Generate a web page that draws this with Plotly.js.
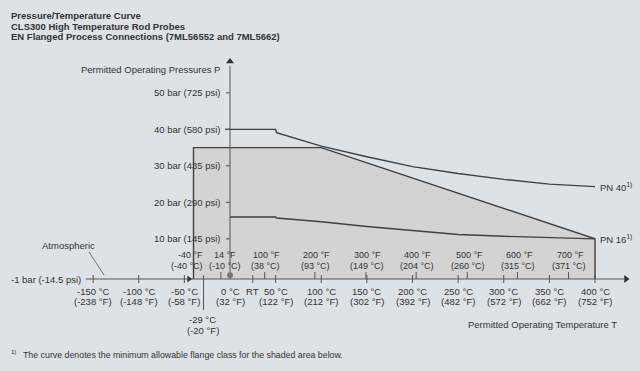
<!DOCTYPE html>
<html>
<head>
<meta charset="utf-8">
<script src="https://cdn.plot.ly/plotly-3.0.1.min.js"></script>
<style>html,body{margin:0;padding:0;background:#dde2e7;}#chart{width:640px;height:371px;}</style>
</head>
<body>
<div id="chart"></div>
<script>
// ---- data ----
const titleLines = ['Pressure/Temperature Curve', 'CLS300 High Temperature Rod Probes', 'EN Flanged Process Connections (7ML56552 and 7ML5662)'];

// shaded permitted area (°C, bar)
const areaT = [-40, -40, 100, 400, 400];
const areaP = [-1, 35, 35, 10, -1];

// PN 40 curve
const pn40T = [0, 50, 51, 100, 150, 200, 250, 300, 350, 400];
const pn40P = [40, 40, 39.1, 35.4, 32.5, 29.8, 27.9, 26.3, 25.0, 24.3];

// PN 16 curve
const pn16T = [0, 50, 51, 100, 150, 200, 250, 300, 350, 400];
const pn16P = [16, 16, 15.7, 14.7, 13.4, 12.2, 11.2, 10.7, 10.3, 10.0];

// pressure ticks
const pTicks = [10, 20, 30, 40, 50];
const pTickText = ['10 bar (145 psi)', '20 bar (290 psi)', '30 bar (435 psi)', '40 bar (580 psi)', '50 bar (725 psi)'];

// Celsius ticks (below axis)
const cTicks = [-150, -100, -50, 0, 50, 100, 150, 200, 250, 300, 350, 400];
const cTickF = ['(-238 °F)', '(-148 °F)', '(-58 °F)', '(32 °F)', '(122 °F)', '(212 °F)', '(302 °F)', '(392 °F)', '(482 °F)', '(572 °F)', '(662 °F)', '(752 °F)'];
const rtT = 25;

// Fahrenheit ticks (above axis)
const fTicksC = [-40, -10, 38, 93, 149, 204, 260, 315, 371];
const fTicksF = [-40, 14, 100, 200, 300, 400, 500, 600, 700];

const minTemp = -29;
const axisMin = -1;

// ---- drawing ----
const ink = '#404040';
const txt = '#333';
const fam = 'Liberation Sans, Arial, sans-serif';
const font = {family: fam, size: 9.5, color: txt};
const fontF = {family: fam, size: 9, color: txt};

const xEnd = 432, xStart = -158, yTop = 57.4;

const traces = [
  {x: areaT, y: areaP, mode: 'lines', fill: 'toself', fillcolor: '#d3d3d3',
   line: {color: ink, width: 1.4}, hoverinfo: 'skip'},
  {x: [xStart, xEnd], y: [axisMin, axisMin], mode: 'lines', line: {color: '#555', width: 1}, hoverinfo: 'skip'},
  {x: [0, 0], y: [axisMin, yTop], mode: 'lines', line: {color: '#555', width: 1}, hoverinfo: 'skip'},
  {x: pn40T, y: pn40P, mode: 'lines', line: {color: ink, width: 1.4}, hoverinfo: 'skip'},
  {x: pn16T, y: pn16P, mode: 'lines', line: {color: ink, width: 1.4}, hoverinfo: 'skip'},
  {x: [xEnd + 2], y: [axisMin], mode: 'markers', marker: {symbol: 'triangle-right', size: 7, color: '#333'}, hoverinfo: 'skip'},
  {x: [0], y: [yTop + 1.2], mode: 'markers', marker: {symbol: 'triangle-up', size: 7, color: '#333'}, hoverinfo: 'skip'},
  {x: [-45], y: [axisMin], mode: 'markers', marker: {symbol: 'triangle-right', size: 6, color: '#333'}, hoverinfo: 'skip'},
  {x: [0], y: [0], mode: 'markers', marker: {symbol: 'circle', size: 6, color: '#777'}, hoverinfo: 'skip'}
];

const shapes = [];
const ann = [];
const lineS = (x0, y0, x1, y1, w) => shapes.push({type: 'line', xref: 'x', yref: 'y', x0, y0, x1, y1, line: {color: '#555', width: w || 1}});

// pressure ticks + labels
pTicks.forEach((p, i) => {
  lineS(-4.4, p, 0, p);
  ann.push({xref: 'x', yref: 'y', x: -7.5, y: p, text: pTickText[i], showarrow: false, xanchor: 'right', yanchor: 'middle', font});
});
// stub of PN 40 line reaching the tick
lineS(-5.5, 40, 0, 40, 1.4);

// Celsius ticks + labels
cTicks.forEach((c, i) => {
  if (c !== 0) lineS(c, 0.1, c, -2.1);
  ann.push({xref: 'x', yref: 'y', x: c, y: -4.4, text: c + ' °C', showarrow: false, xanchor: 'center', yanchor: 'middle', font});
  ann.push({xref: 'x', yref: 'y', x: c, y: -7.2, text: cTickF[i], showarrow: false, xanchor: 'center', yanchor: 'middle', font});
});
lineS(rtT, 0.1, rtT, -2.1);
ann.push({xref: 'x', yref: 'y', x: rtT, y: -4.4, text: 'RT', showarrow: false, xanchor: 'center', yanchor: 'middle', font});

// Fahrenheit ticks + labels
fTicksC.forEach((c, i) => {
  if (c !== -40) lineS(c, -1, c, 0.9);
  let d1 = 2, d2 = 1;
  if (c === -40) { d1 = -3; d2 = -7; }
  if (c === -10) { d1 = 4.5; d2 = 4.5; }
  ann.push({xref: 'x', yref: 'y', x: c + d1, y: 5.5, text: fTicksF[i] + ' °F', showarrow: false, xanchor: 'center', yanchor: 'middle', font: fontF});
  ann.push({xref: 'x', yref: 'y', x: c + d2, y: 2.6, text: '(' + c + ' °C)', showarrow: false, xanchor: 'center', yanchor: 'middle', font: fontF});
});

// -29 °C minimum line
lineS(minTemp, 0, minTemp, -9.5);
ann.push({xref: 'x', yref: 'y', x: minTemp - 1, y: -12, text: minTemp + ' °C', showarrow: false, xanchor: 'center', yanchor: 'middle', font});
ann.push({xref: 'x', yref: 'y', x: minTemp - 1, y: -15.1, text: '(-20 °F)', showarrow: false, xanchor: 'center', yanchor: 'middle', font});

// atmospheric leader
lineS(-154.5, 6.4, -138, 0.1, 0.8);
ann.push({xref: 'x', yref: 'y', x: -177.5, y: 8.3, text: 'Atmospheric', showarrow: false, xanchor: 'center', yanchor: 'middle', font});
ann.push({xref: 'x', yref: 'y', x: xStart - 3.5, y: axisMin, text: '-1 bar (-14.5 psi)', showarrow: false, xanchor: 'right', yanchor: 'middle', font});

// axis titles
ann.push({xref: 'x', yref: 'y', x: -8.5, y: 56.4, text: 'Permitted Operating Pressures P', showarrow: false, xanchor: 'right', yanchor: 'middle', font});
ann.push({xref: 'x', yref: 'y', x: 426, y: -13.4, text: 'Permitted Operating Temperature T', showarrow: false, xanchor: 'right', yanchor: 'middle', font});

// curve labels
ann.push({xref: 'x', yref: 'y', x: 403, y: pn40P[pn40P.length - 1], text: 'PN 40<sup>1)</sup>', showarrow: false, xanchor: 'left', yanchor: 'middle', font});
ann.push({xref: 'x', yref: 'y', x: 403, y: pn16P[pn16P.length - 1], text: 'PN 16<sup>1)</sup>', showarrow: false, xanchor: 'left', yanchor: 'middle', font});

// titles
const titleY = [15.5, 26, 36.5];
titleLines.forEach((t, i) => {
  ann.push({xref: 'paper', yref: 'paper', x: 9 / 640, y: 1 - titleY[i] / 371, text: '<b>' + t + '</b>', showarrow: false, xanchor: 'left', yanchor: 'middle', font});
});

// footnote
ann.push({xref: 'paper', yref: 'paper', x: 9 / 640, y: 1 - 352 / 371, text: '1)', showarrow: false, xanchor: 'left', yanchor: 'middle', font: {family: fam, size: 6, color: txt}});
ann.push({xref: 'paper', yref: 'paper', x: 21 / 640, y: 1 - 355 / 371, text: 'The curve denotes the minimum allowable flange class for the shaded area below.', showarrow: false, xanchor: 'left', yanchor: 'middle', font: {family: fam, size: 8.8, color: txt}});

const layout = {
  width: 640, height: 371,
  margin: {l: 0, r: 0, t: 0, b: 0},
  paper_bgcolor: '#dde2e7', plot_bgcolor: '#dde2e7',
  showlegend: false,
  xaxis: {range: [-252.055, 449.315], showgrid: false, zeroline: false, showticklabels: false, showline: false, ticks: '', fixedrange: true},
  yaxis: {range: [-26.205, 75.438], showgrid: false, zeroline: false, showticklabels: false, showline: false, ticks: '', fixedrange: true},
  shapes, annotations: ann
};

Plotly.newPlot('chart', traces, layout, {staticPlot: true, displayModeBar: false});
</script>
</body>
</html>
